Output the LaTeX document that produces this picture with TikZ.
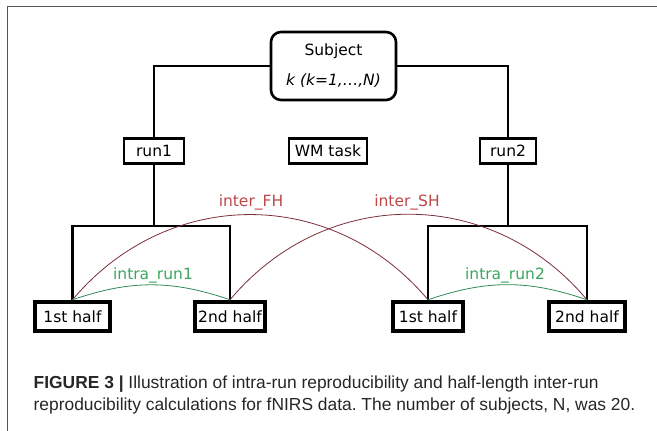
\documentclass[tikz,border=0pt]{standalone}
\usepackage{fontspec}
\setmainfont{DejaVu Sans}
\newfontfamily\capfont{Liberation Sans}
\usetikzlibrary{positioning}
\frenchspacing
\definecolor{interred}{RGB}{192,72,72}
\definecolor{interline}{RGB}{125,45,55}
\definecolor{intragreen}{RGB}{60,165,95}
\definecolor{intraline}{RGB}{45,140,85}
\definecolor{framegray}{RGB}{85,85,85}
\tikzset{
  diag/.style={font=\fontsize{15.5}{17}\selectfont},
  runbox/.style={draw,line width=2.6pt,inner sep=0pt,minimum height=25pt,diag},
  halfbox/.style={draw,line width=4.4pt,inner sep=0pt,minimum height=29pt,diag},
  tree/.style={line width=2.8pt},
  interarc/.style={interline,line width=0.8pt},
  intraarc/.style={intraline,line width=0.8pt},
}
\begin{document}
\begin{tikzpicture}[x=1pt,y=1pt]
\useasboundingbox(0,0)rectangle(657,431);
%frame
\draw[framegray,line width=1.2pt](7.5,0)--(7.5,424.5)--(657,424.5);
%subject and runs
\node[draw,rounded corners=10pt,line width=2.6pt,minimum width=125pt,minimum height=68pt,align=center,font=\fontsize{15.5}{30}\selectfont](subj)at(333.5,365){Subject\\\textit{k (k=1,…,N)}};
\node[runbox,minimum width=60pt](run1)at(154,280){run1};
\node[runbox,minimum width=78pt](task)at(328,280){WM task};
\node[runbox,minimum width=56pt](run2)at(508,280){run2};
\draw[tree](subj.west)-|(run1.north);
\draw[tree](subj.east)-|(run2.north);
%halves
\node[halfbox,minimum width=75.5pt](h11)at(72.5,114.5){1st half};
\node[halfbox,minimum width=69.5pt](h12)at(230,114.5){2nd half};
\node[halfbox,minimum width=70pt](h21)at(428,114.5){1st half};
\node[halfbox,minimum width=75.5pt](h22)at(587,114.5){2nd half};
\coordinate(fork1)at(154,205);
\coordinate(fork2)at(508,205);
\draw[tree](run1.south)--(fork1);
\draw[tree](run2.south)--(fork2);
\draw[tree](h11.north)|-(fork1)-|(h12.north);
\draw[tree](h21.north)|-(fork2)-|(h22.north);
%reproducibility arcs
\draw[interarc](h11.north)to[out=50,in=130,looseness=1.07](h21.north);
\draw[interarc](h12.north)to[out=50,in=130,looseness=1.07](h22.north);
\draw[intraarc](h11.north)to[bend left=19](h12.north);
\draw[intraarc](h21.north)to[bend left=19](h22.north);
%labels
\node[diag,text=interred](fh)at(251,229){inter\_FH};
\node[diag,text=interred](sh)at(407,229){inter\_SH};
\node[diag,text=intragreen](ir1)at(153,156){intra\_run1};
\node[diag,text=intragreen](ir2)at(505,156){intra\_run2};
%caption
\node[anchor=base west,inner sep=0pt,text=black!85,font=\capfont\fontsize{17.4}{20}\selectfont](cap1)at(33.5,42){\textbf{FIGURE 3 |} Illustration of intra-run reproducibility and half-length inter-run};
\node[anchor=base west,inner sep=0pt,text=black!85,font=\capfont\fontsize{17.4}{20}\selectfont](cap2)at(33.5,20){reproducibility calculations for fNIRS data. The number of subjects, N, was 20.};
\end{tikzpicture}
\end{document}
